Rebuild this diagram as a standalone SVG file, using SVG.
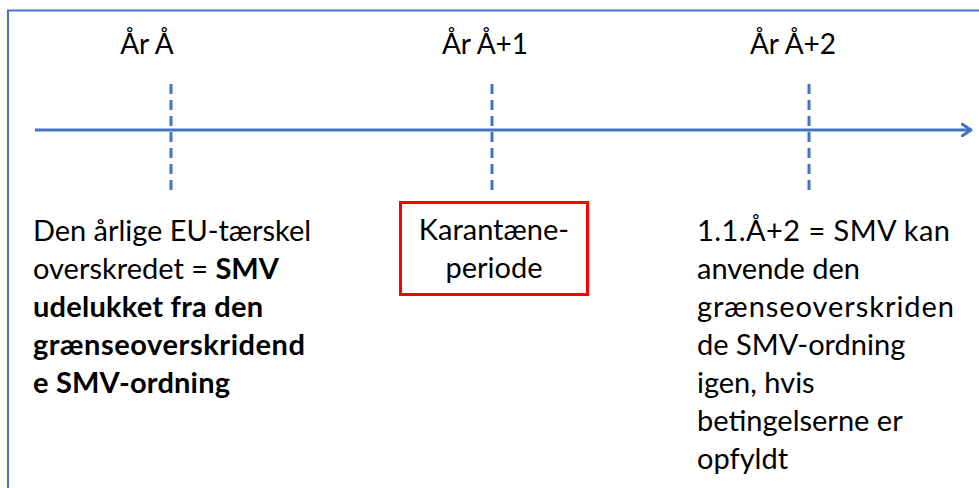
<svg xmlns="http://www.w3.org/2000/svg" width="979" height="488" viewBox="0 0 979 488">
  <style>
    .t { font-family: Lato, "Noto Sans", sans-serif; font-size: 29px; fill: #000; }
    .h { font-size: 28px; }
    .b { font-weight: bold; }
    .mid { text-anchor: middle; }
    .tick { stroke: #4472C4; stroke-width: 3; stroke-dasharray: 10 6; fill: none; }
  </style>
  <defs>
    <marker id="arrow" markerWidth="12" markerHeight="14" refX="10" refY="7" orient="auto" markerUnits="userSpaceOnUse">
      <path d="M1,1 L10,7 L1,13" fill="none" stroke="#4472C4" stroke-width="3" stroke-linecap="round" stroke-linejoin="round"/>
    </marker>
  </defs>
  <rect width="979" height="488" fill="#fff"/>
  <!-- frame -->
  <path d="M8,488 L8,10.5 L979,10.5" fill="none" stroke="#4472C4" stroke-width="2"/>

  <g id="connectors">
    <line x1="35" y1="130" x2="971" y2="130" stroke="#4472C4" stroke-width="3" marker-end="url(#arrow)"/>
    <line class="tick" x1="171" y1="84" x2="171" y2="190"/>
    <line class="tick" x1="492" y1="84" x2="492" y2="190"/>
    <line class="tick" x1="809" y1="84" x2="809" y2="190"/>
  </g>

  <g id="year0"><text class="t h mid" x="147" y="54">År Å</text></g>
  <g id="year1"><text class="t h mid" x="485" y="54">År Å+1</text></g>
  <g id="year2"><text class="t h mid" x="793" y="54">År Å+2</text></g>

  <g id="threshold">
    <text class="t" x="33" y="241" textLength="278">Den årlige EU-tærskel</text>
    <text class="t" x="33" y="279">overskredet = <tspan class="b">SMV</tspan></text>
    <text class="t b" x="33" y="317" textLength="230">udelukket fra den</text>
    <text class="t b" x="33" y="355" textLength="272">grænseoverskridend</text>
    <text class="t b" x="33" y="393" textLength="197">e SMV-ordning</text>
  </g>

  <g id="quarantine">
    <rect x="400.5" y="202.5" width="187" height="92" fill="#fff" stroke="#FF0000" stroke-width="3"/>
    <text class="t mid" x="494" y="240">Karantæne-</text>
    <text class="t mid" x="494" y="278">periode</text>
  </g>

  <g id="readmission">
    <text class="t" x="697" y="241" textLength="253">1.1.Å+2 = SMV kan</text>
    <text class="t" x="697" y="279">anvende den</text>
    <text class="t" x="697" y="317" textLength="257">grænseoverskriden</text>
    <text class="t" x="697" y="355">de SMV-ordning</text>
    <text class="t" x="697" y="393">igen, hvis</text>
    <text class="t" x="697" y="431">betingelserne er</text>
    <text class="t" x="697" y="469">opfyldt</text>
  </g>
</svg>
